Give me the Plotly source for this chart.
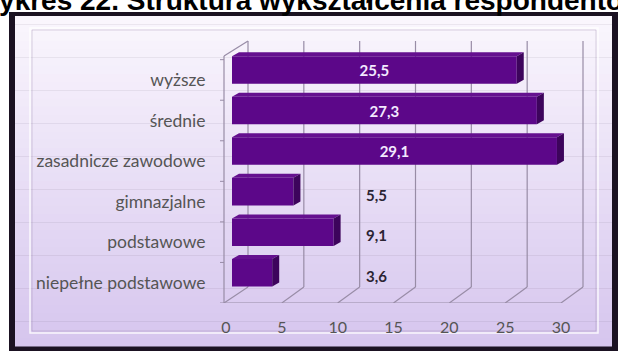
import plotly.graph_objects as go

# ---------------- data (top-to-bottom as in the reference) ----------------
categories = ["wyższe", "średnie", "zasadnicze zawodowe", "gimnazjalne",
              "podstawowe", "niepełne podstawowe"]
values = [25.5, 27.3, 29.1, 5.5, 9.1, 3.6]
x_ticks = [0, 5, 10, 15, 20, 25, 30]
title_text = "Wykres 22. Struktura wykształcenia respondentów"

# ---------------- layout geometry ----------------
WIDTH, HEIGHT = 618, 351
L, R, T, B = 215, 18, 40, 48
PW, PH = WIDTH - L - R, HEIGHT - T - B
X0_PX = 226                      # pixel of x = 0 on the front plane
X_SCALE = (561 - 226) / 30.0     # px per unit
XR = [(L - X0_PX) / X_SCALE, (L + PW - X0_PX) / X_SCALE]
n = len(categories)
Y_TOP_EXTRA = 0.485
YR = [-0.5, n - 0.5 + Y_TOP_EXTRA]
Y_SCALE = PH / (YR[1] - YR[0])   # px per unit

def ux(px):   # pixel distance -> x units
    return px / X_SCALE

def uy(px):   # pixel distance -> y units
    return px / Y_SCALE

def X(px):    # absolute pixel -> paper x
    return (px - L) / PW

def Y(py):    # absolute pixel -> paper y
    return (HEIGHT - B - py) / PH

# reverse so first category is on top
cats = categories[::-1]
vals = values[::-1]
pos = list(range(n))

BAR_W = 0.68
BAR_SHIFT = uy(10)
BAR_BASE = ux(6)
BAR_COLOR = "#5c0789"
SIDE_COLOR = "#3d045c"
TOP_COLOR = "#65108f"
GRID = "#988ca6"

def fmt(v):
    return f"{v:.1f}".replace(".", ",")

inside = [v > 20 for v in vals]

fig = go.Figure()
fig.add_trace(go.Bar(
    y=pos, x=vals, orientation="h",
    base=[BAR_BASE] * n,
    width=[BAR_W] * n,
    offset=[BAR_SHIFT - BAR_W / 2] * n,
    marker=dict(color=BAR_COLOR, line=dict(width=0)),
    text=[fmt(v) if ins else "" for v, ins in zip(vals, inside)],
    textposition="inside", insidetextanchor="middle",
    insidetextfont=dict(family="Lato", size=15, color="#f3e9ff", weight="bold"),
    hoverinfo="skip", showlegend=False,
))

shapes = []

# frame: dark border + gradient background
shapes.append(dict(type="rect", xref="paper", yref="paper", layer="below",
                   x0=X(9), x1=X(620), y0=Y(12), y1=Y(353),
                   fillcolor="#1b1222", line=dict(width=0)))
top_c = (250, 246, 253)
bot_c = (214, 198, 238)
y_a, y_b = 16, 346
NB = 40
for i in range(NB):
    t = i / (NB - 1)
    c = tuple(round(top_c[k] + (bot_c[k] - top_c[k]) * t) for k in range(3))
    ya = y_a + (y_b - y_a) * i / NB
    yb = y_a + (y_b - y_a) * (i + 1) / NB + 0.5
    shapes.append(dict(type="rect", xref="paper", yref="paper", layer="below",
                       x0=X(15), x1=X(612), y0=Y(ya), y1=Y(yb),
                       fillcolor="rgb(%d,%d,%d)" % c, line=dict(width=0)))
# inner bevel
shapes.append(dict(type="rect", xref="paper", yref="paper", layer="below",
                   x0=X(30), x1=X(598), y0=Y(28), y1=Y(333),
                   fillcolor="rgba(0,0,0,0)",
                   line=dict(color="rgba(255,255,255,0.85)", width=1.5)))
shapes.append(dict(type="rect", xref="paper", yref="paper", layer="below",
                   x0=X(32), x1=X(596), y0=Y(30), y1=Y(331),
                   fillcolor="rgba(0,0,0,0)",
                   line=dict(color="rgba(150,135,170,0.35)", width=1)))

# 3D walls
DXB, DYB = ux(22), uy(16)
y_front = -0.5
y_top_wall = YR[1] - uy(1)
x_left = -ux(2)
for tv in x_ticks:
    shapes.append(dict(type="line", xref="x", yref="y", layer="below",
                       x0=tv + DXB, x1=tv + DXB, y0=y_front + DYB, y1=y_top_wall,
                       line=dict(color=GRID, width=1.2)))
    shapes.append(dict(type="line", xref="x", yref="y", layer="below",
                       x0=(x_left if tv == 0 else tv), x1=tv + DXB,
                       y0=y_front, y1=y_front + DYB,
                       line=dict(color=GRID, width=1.2)))
shapes.append(dict(type="line", xref="x", yref="y", layer="below",
                   x0=x_left, x1=x_left, y0=y_front, y1=y_top_wall - DYB + uy(1),
                   line=dict(color=GRID, width=1.2)))
shapes.append(dict(type="line", xref="x", yref="y", layer="below",
                   x0=x_left, x1=DXB, y0=y_top_wall - DYB + uy(1), y1=y_top_wall,
                   line=dict(color=GRID, width=1.2)))
shapes.append(dict(type="line", xref="x", yref="y", layer="below",
                   x0=x_left, x1=x_ticks[-1], y0=y_front, y1=y_front,
                   line=dict(color=GRID, width=1.2)))
for k in range(n + 1):
    yy = k - 0.5
    shapes.append(dict(type="line", xref="x", yref="y", layer="below",
                       x0=x_left - ux(4), x1=x_left, y0=yy, y1=yy,
                       line=dict(color=GRID, width=1)))

# 3D faces of the bars
DDX, DDY = ux(7), uy(4)
for k, v in zip(pos, vals):
    y_bot = k + BAR_SHIFT - BAR_W / 2
    y_top = k + BAR_SHIFT + BAR_W / 2
    x_s = BAR_BASE
    x_e = BAR_BASE + v
    shapes.append(dict(type="path", xref="x", yref="y", layer="above",
                       path=f"M{x_s},{y_top} L{x_s + DDX},{y_top + DDY} "
                            f"L{x_e + DDX},{y_top + DDY} L{x_e},{y_top} Z",
                       fillcolor=TOP_COLOR, line=dict(width=0)))
    shapes.append(dict(type="path", xref="x", yref="y", layer="above",
                       path=f"M{x_e},{y_bot} L{x_e + DDX},{y_bot + DDY} "
                            f"L{x_e + DDX},{y_top + DDY} L{x_e},{y_top} Z",
                       fillcolor=SIDE_COLOR, line=dict(width=0)))

# outside labels for short bars
LABEL_X = ux(376 - X0_PX)
annotations = []
for k, v, ins in zip(pos, vals, inside):
    if not ins:
        annotations.append(dict(x=LABEL_X, y=k, xref="x", yref="y", yshift=7,
                                text=fmt(v), showarrow=False,
                                font=dict(family="Lato", size=15, color="#2b2433",
                                          weight="bold")))

fig.update_layout(
    width=WIDTH, height=HEIGHT,
    margin=dict(l=L, r=R, t=T, b=B, pad=0),
    paper_bgcolor="white", plot_bgcolor="rgba(0,0,0,0)",
    title=dict(text=title_text, x=0.5, xanchor="center", xref="container",
               y=1.0, yanchor="middle", yref="container",
               font=dict(family="Liberation Sans", size=28, color="black",
                         weight="bold")),
    xaxis=dict(range=XR, tickvals=x_ticks, ticktext=[str(t) for t in x_ticks],
               showgrid=False, zeroline=False, showline=False,
               ticks="outside", ticklen=10, tickcolor="rgba(0,0,0,0)",
               tickfont=dict(family="Lato", size=16, color="#555555")),
    yaxis=dict(range=YR, tickvals=pos, ticktext=cats,
               showgrid=False, zeroline=False, showline=False,
               ticks="outside", ticklen=5, tickcolor="rgba(0,0,0,0)",
               tickfont=dict(family="Lato", size=17.5, color="#555555")),
    shapes=shapes, annotations=annotations,
)

fig.write_html("out.html", config={"displayModeBar": False},
               post_script="document.body.style.margin='0';document.body.style.padding='0';")
